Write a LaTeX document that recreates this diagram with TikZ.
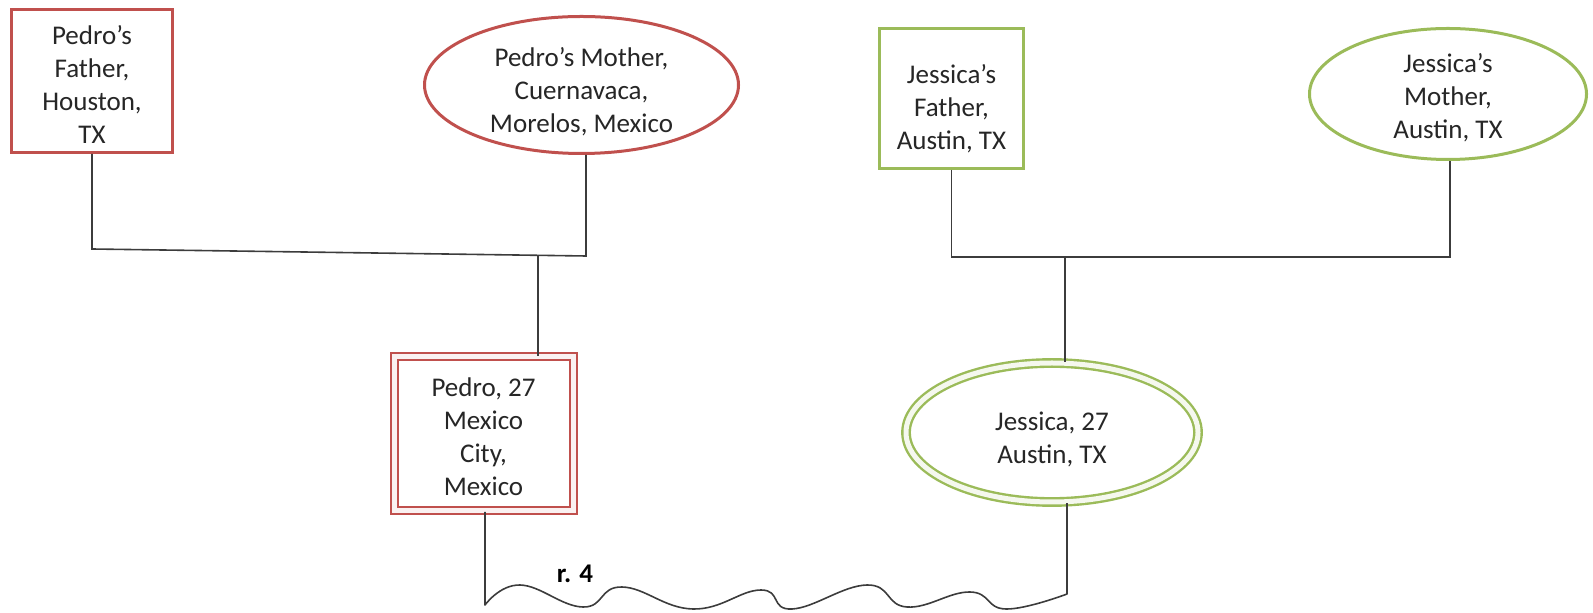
\documentclass[tikz,border=0pt]{standalone}
\usepackage{fontspec}
\setmainfont{Carlito}
\usetikzlibrary{shapes.geometric}
\definecolor{pedrored}{RGB}{192,80,77}
\definecolor{jessgreen}{RGB}{155,187,89}
\definecolor{linegray}{RGB}{60,60,60}
\begin{document}
\begin{tikzpicture}[x=0.5pt,y=-0.5pt,
  every node/.style={align=center, text=black!85, inner sep=0pt,
    font=\fontsize{13.5}{16.5}\selectfont},
  redbox/.style={draw=pedrored, line width=1.5pt, fill=white, rectangle},
  redoval/.style={draw=pedrored, line width=1.5pt, fill=white, ellipse},
  greenbox/.style={draw=jessgreen, line width=1.5pt, fill=white, rectangle},
  greenoval/.style={draw=jessgreen, line width=1.5pt, fill=white, ellipse},
  redframe/.style={draw=pedrored, line width=1pt, double=pedrored!8,
    double distance=2.5pt, rectangle},
  greenframe/.style={draw=jessgreen, line width=1.2pt, double=jessgreen!10,
    double distance=2.5pt, ellipse},
  conn/.style={draw=linegray, line width=0.8pt}]
\useasboundingbox (0,0) rectangle (1593,613);

% parents
\node[redbox, minimum width=80.5pt, minimum height=71.5pt] (pf) at (92,81) {};
\node (pftext) at ([yshift=-1.5pt]pf.center) {Pedro’s\\Father,\\Houston,\\TX};
\node[redoval, minimum width=157pt, minimum height=68.5pt] (pm) at (581.5,85) {};
\node (pmtext) at ([yshift=-3.5pt]pm.center) {Pedro’s Mother,\\Cuernavaca,\\Morelos, Mexico};
\node[greenbox, minimum width=72pt, minimum height=70pt] (jf) at (951.5,98.5) {};
\node (jftext) at ([yshift=-5pt]jf.center) {Jessica’s\\Father,\\Austin, TX};
\node[greenoval, minimum width=138.5pt, minimum height=65.5pt] (jm) at (1448,94) {};
\node (jmtext) at ([yshift=-2pt]jm.center) {Jessica’s\\Mother,\\Austin, TX};

% the couple
\node[redframe, minimum width=89.5pt, minimum height=77pt] (pedro) at (483.5,434) {};
\node (pedrotext) at ([yshift=-1.5pt]pedro.center) {Pedro, 27\\Mexico\\City,\\Mexico};
\node[greenframe, minimum width=146pt, minimum height=69.5pt] (jess) at (1052,432.5) {};
\node (jesstext) at ([yshift=-3.5pt]jess.center) {Jessica, 27\\Austin, TX};

% join points of the family lines
\coordinate (pjl) at (92,249);
\coordinate (pjr) at (586,256);
\coordinate (pdrop) at (538,255.3);
\coordinate (jjl) at (951.5,257);
\coordinate (jjr) at (1450,257);
\coordinate (jdrop) at (1065,257);
\coordinate (wl) at (485,605);
\coordinate (wr) at (1067,594);

% Pedro's parents
\draw[conn] (pf.south) -- (pjl) -- (pjr) -- (pm.south -| pjr);
\draw[conn] (pdrop) -- (pedro.north -| pdrop);

% Jessica's parents
\draw[conn] (jf.south) -- (jjl) -- (jjr) -- (jm.south -| jjr);
\draw[conn] (jdrop) -- (jess.north -| jdrop);

% the relationship line with its wavy base
\draw[conn, line join=round] (pedro.south -| wl) -- (wl)
  -- plot[smooth, tension=0.75] coordinates {
    (485,605) (520,585) (583,607) (622,587) (693,609) (761,590)
    (792,609) (867,585) (907,607) (970,592) (1006,609) (1067,594)}
  -- (jess.south -| wr);

\node[font=\fontsize{13.5}{16.5}\selectfont\bfseries, text=black] (rel) at (575,574) {r. 4};
\end{tikzpicture}
\end{document}
